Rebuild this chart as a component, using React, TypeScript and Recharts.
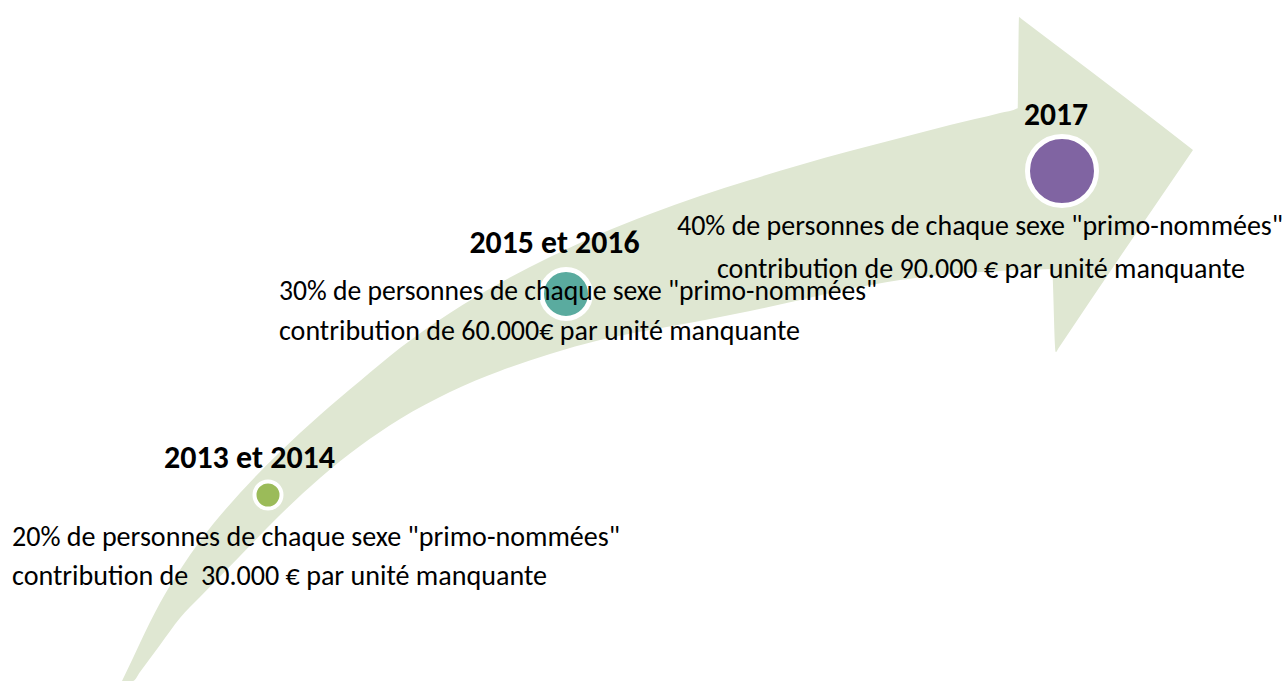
import { ComposedChart, Area, Scatter, XAxis, YAxis } from 'recharts';

// milestones
const periods = ['2013 et 2014', '2015 et 2016', '2017'];
const quotas = [20, 30, 40];
const contributions = [' 30.000 €', '60.000€', '90.000 €'];
const dotColors = ['#9bbb59', '#5aab9f', '#8064a2'];

// arrow outline, in page units (y grows downward)
const arrowX = [122, 133, 140, 160, 180, 200, 240, 280, 320, 360, 400, 450, 500, 550, 600, 650, 700, 750, 800, 850, 900, 950, 1000, 1018, 1019, 1021, 1052, 1056, 1058, 1193];
const arrowUpper = [681, 658, 643, 603, 570, 541, 493, 452, 415, 381, 348, 313, 283, 257, 234, 214, 196, 180, 165, 151, 138, 125, 113, 108, 17, 18.5, 42, 45, 46.5, 150];
const arrowLower = [681, 681, 672, 645, 618, 597, 556, 515, 478, 446, 419, 392, 371, 354, 340, 330, 321, 311, 300, 289, 280, 274, 271, 270, 270, 270, 269, 352, 349, 150];

// layout of dots and text
const dotX = [268, 566, 1062];
const dotY = [495, 294, 171];
const dotR = [11.5, 22, 32];
const dotRing = [4, 5, 5];

const titleX = [249.5, 554.5, 1056];
const titleY = [468, 253, 125];
const titleW = [171, 170, 64];

const line1X = [12, 279, 980];
const line1Y = [546, 300, 235];
const line1W = [608, 598, 606];
const line2X = [12, 279, 981];
const line2Y = [585, 340, 278];
const line2W = [535, 521, 528];
const bodyAnchor = ['start', 'start', 'middle'];

const arrowData = arrowX.map((x, i) => ({ x, band: [arrowLower[i], arrowUpper[i]] }));

const dots = periods.map((p, i) => ({ x: dotX[i], y: dotY[i], r: dotR[i], ring: dotRing[i], color: dotColors[i] }));

const labels = periods.flatMap((p, i) => [
  { x: titleX[i], y: titleY[i], text: p, bold: true, width: titleW[i], anchor: 'middle' },
  { x: line1X[i], y: line1Y[i], text: `${quotas[i]}% de personnes de chaque sexe "primo-nommées"`, bold: false, width: line1W[i], anchor: bodyAnchor[i] },
  { x: line2X[i], y: line2Y[i], text: `contribution de ${contributions[i]} par unité manquante`, bold: false, width: line2W[i], anchor: bodyAnchor[i] },
]);

const FONT = "Calibri, Carlito, 'Noto Sans', sans-serif";

const Dot = (props: any) => {
  const { cx, cy, payload } = props;
  return (
    <circle
      cx={cx}
      cy={cy}
      r={payload.r + payload.ring / 2}
      fill={payload.color}
      stroke="#ffffff"
      strokeWidth={payload.ring}
    />
  );
};

const Label = (props: any) => {
  const { cx, cy, payload } = props;
  return (
    <text
      x={cx}
      y={cy}
      textAnchor={payload.anchor}
      textLength={payload.width}
      lengthAdjust="spacingAndGlyphs"
      fontFamily={FONT}
      fontSize={payload.bold ? 32 : 28}
      fontWeight={payload.bold ? 700 : 400}
      fill="#000000"
      style={{ whiteSpace: 'pre' }}
    >
      {payload.text}
    </text>
  );
};

export default function App() {
  return (
    <div style={{ position: 'absolute', left: 0, top: 0, width: 1286, height: 681, background: '#ffffff' }}>
      <ComposedChart width={1286} height={681} data={arrowData} margin={{ top: 0, right: 0, bottom: 0, left: 0 }}>
        <XAxis type="number" dataKey="x" domain={[0, 1286]} hide allowDataOverflow />
        <YAxis type="number" domain={[0, 681]} reversed hide allowDataOverflow />
        <Area
          dataKey="band"
          type="monotone"
          fill="#dfe7d2"
          fillOpacity={1}
          stroke="none"
          dot={false}
          activeDot={false}
          isAnimationActive={false}
        />
        <Scatter data={dots} dataKey="y" shape={Dot} isAnimationActive={false} />
        <Scatter data={labels} dataKey="y" shape={Label} isAnimationActive={false} />
      </ComposedChart>
    </div>
  );
}
